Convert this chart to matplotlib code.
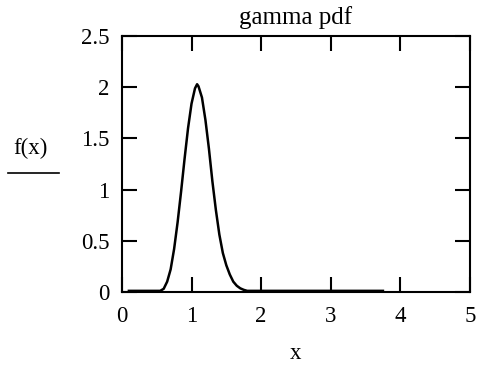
import matplotlib
matplotlib.use("Agg")
import matplotlib.pyplot as plt
from matplotlib.lines import Line2D

# values
x_vals = [0.10, 0.55, 0.60, 0.65, 0.70, 0.75, 0.80, 0.85, 0.90, 0.95, 1.00,
          1.05, 1.08, 1.10, 1.15, 1.20, 1.25, 1.30, 1.35, 1.40, 1.45, 1.50,
          1.55, 1.60, 1.65, 1.70, 1.75, 1.80, 3.75]
f_vals = [0.01, 0.01, 0.03, 0.10, 0.22, 0.42, 0.68, 0.98, 1.30, 1.60, 1.84,
          1.99, 2.03, 2.01, 1.90, 1.68, 1.40, 1.08, 0.80, 0.56, 0.38, 0.26,
          0.17, 0.10, 0.06, 0.035, 0.02, 0.01, 0.01]

x_ticks = [0, 1, 2, 3, 4, 5]
y_ticks = [0, 0.5, 1, 1.5, 2, 2.5]
y_tick_labels = ["0", "0.5", "1", "1.5", "2", "2.5"]

plt.rcParams['font.family'] = ['Liberation Serif', 'DejaVu Serif']

fig = plt.figure(figsize=(4.8, 3.69), dpi=100)
ax = fig.add_axes([0.254, 0.209, 0.725, 0.693])

ax.plot(x_vals, f_vals, color="black", linewidth=1.8)

ax.set_xlim(0, 5)
ax.set_ylim(0, 2.5)
ax.set_xticks(x_ticks)
ax.set_yticks(y_ticks)
ax.set_yticklabels(y_tick_labels)
ax.tick_params(direction="in", length=11, width=1.5, top=True, right=True,
               labelsize=16.5)
ax.tick_params(axis="x", pad=10)
ax.tick_params(axis="y", pad=9)
for s in ax.spines.values():
    s.set_linewidth(1.5)

ax.set_title("gamma pdf", fontsize=18, pad=9)
ax.set_xlabel("x", fontsize=16.5, labelpad=12)

fig.text(30.5 / 480, 1 - 148 / 369, "f(x)", ha="center", va="center", fontsize=16.5)
fig.add_artist(Line2D([8 / 480, 59 / 480], [1 - 173 / 369, 1 - 173 / 369],
                      color="black", linewidth=1.2, transform=fig.transFigure))

fig.savefig("out.png", dpi=100)
